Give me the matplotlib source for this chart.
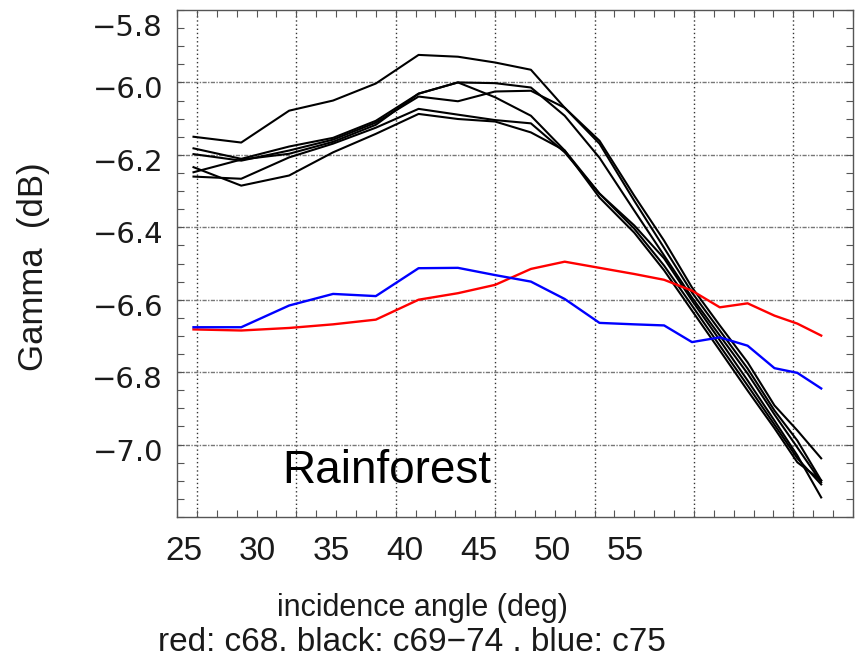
import numpy as np
import matplotlib.pyplot as plt
from matplotlib.ticker import MultipleLocator, FixedLocator
import matplotlib.transforms as mtransforms

plt.rcParams['font.family'] = ['Liberation Sans', 'DejaVu Sans']

# incidence angle of each sample (deg)
angle = [24.83, 27.23, 29.64, 31.85, 34.0, 36.15, 38.13, 40.0, 41.8, 43.5,
         45.25, 47.0, 48.5, 49.9, 51.3, 52.7, 54.05, 55.2, 56.4]

# gamma (dB)
c68 = [-6.682, -6.685, -6.678, -6.668, -6.655, -6.600, -6.582, -6.559, -6.515, -6.495,
       -6.512, -6.529, -6.545, -6.575, -6.621, -6.610, -6.644, -6.666, -6.699]
c75 = [-6.676, -6.676, -6.616, -6.584, -6.590, -6.513, -6.512, -6.532, -6.550, -6.598,
       -6.664, -6.668, -6.671, -6.717, -6.704, -6.727, -6.789, -6.802, -6.845]

c69 = [-6.150, -6.166, -6.078, -6.050, -6.003, -5.924, -5.929, -5.945, -5.965, -6.070,
       -6.161, -6.313, -6.437, -6.566, -6.671, -6.773, -6.892, -6.961, -7.038]
c70 = [-6.182, -6.211, -6.177, -6.153, -6.106, -6.031, -6.000, -6.002, -6.014, -6.092,
       -6.208, -6.354, -6.478, -6.594, -6.699, -6.804, -6.917, -7.008, -7.104]
c71 = [-6.198, -6.216, -6.188, -6.158, -6.111, -6.039, -6.052, -6.025, -6.023, -6.070,
       -6.169, -6.327, -6.457, -6.580, -6.685, -6.790, -6.906, -6.989, -7.099]
c72 = [-6.248, -6.213, -6.197, -6.164, -6.117, -6.031, -6.000, -6.041, -6.092, -6.188,
       -6.307, -6.395, -6.486, -6.602, -6.712, -6.823, -6.934, -7.030, -7.146]
c73 = [-6.260, -6.266, -6.207, -6.169, -6.125, -6.073, -6.089, -6.104, -6.113, -6.193,
       -6.307, -6.404, -6.506, -6.616, -6.727, -6.837, -6.945, -7.038, -7.110]
c74 = [-6.234, -6.285, -6.257, -6.193, -6.142, -6.087, -6.101, -6.108, -6.138, -6.188,
       -6.318, -6.415, -6.519, -6.630, -6.740, -6.851, -6.955, -7.049, -7.099]
black_runs = [c69, c70, c71, c72, c73, c74]

xtick_vals = [25, 30, 35, 40, 45, 50, 55]
ytick_vals = [-5.8, -6.0, -6.2, -6.4, -6.6, -6.8, -7.0]

TXT = "#1a1a1a"
AXC = "#555555"

fig = plt.figure(figsize=(8.55, 6.66), dpi=100)
ax = fig.add_axes([177 / 855, 1 - 517 / 666, 676 / 855, 507 / 666])
ax.set_xlim(24, 58)
ax.set_ylim(-7.2, -5.8)

# grid: dotted verticals every 5 deg, dash-dot horizontals every 0.2 dB
for gx in xtick_vals:
    ax.axvline(gx, color="#333333", lw=1.0, ls=(0, (1, 2)), zorder=1)
for gy in ytick_vals[1:]:
    ax.axhline(gy, color="#777777", lw=1.0, ls=(0, (3, 1, 1, 1)), zorder=1)

for run in black_runs:
    ax.plot(angle, run, color="black", lw=1.5, zorder=3)
ax.plot(angle, c68, color="#ff0000", lw=1.7, zorder=4)
ax.plot(angle, c75, color="#0000ff", lw=1.7, zorder=4)

# ticks (IDL style: inward, on all four sides)
# x labels sit a little compressed toward the left, as in the original
label_pos = [24.36 + (v - 25) * 0.74 for v in xtick_vals]
ax.xaxis.set_major_locator(FixedLocator(label_pos))
ax.set_xticklabels([str(v) for v in xtick_vals])
ax.xaxis.set_minor_locator(MultipleLocator(1))
ax.yaxis.set_major_locator(FixedLocator(ytick_vals))
ax.set_yticklabels([f"\u2212{abs(v):.1f}" for v in ytick_vals])
ax.yaxis.set_minor_locator(MultipleLocator(0.05))

ax.tick_params(axis='x', which='major', length=0, pad=14,
               labelsize=24, labelcolor=TXT)
ax.tick_params(axis='x', which='minor', direction='in', top=True, bottom=True,
               length=5, width=0.8, color=AXC)
ax.tick_params(axis='y', which='both', direction='in', left=True, right=True,
               length=5, width=0.8, color=AXC)
ax.tick_params(axis='y', which='major', pad=10, labelsize=21, labelcolor=TXT)
for lab in ax.get_yticklabels():
    lab.set_fontfamily('DejaVu Sans')

for i, lab in enumerate(ax.get_yticklabels()):
    dy = -15 if i == 0 else -5
    lab.set_transform(lab.get_transform() +
                      mtransforms.ScaledTranslation(0, dy / 100, fig.dpi_scale_trans))

for sp in ax.spines.values():
    sp.set_color(AXC)
    sp.set_linewidth(1.0)

fig.text(34 / 855, 1 - 267 / 666, "Gamma  (dB)", rotation=90, ha='center',
         va='center', fontsize=25, color=TXT)
fig.text(422 / 855, 1 - 616 / 666, "incidence angle (deg)", ha='center',
         va='baseline', fontsize=22, color=TXT)
fig.text(412 / 855, 1 - 651 / 666, "red: c68. black: c69\u221274 . blue: c75",
         ha='center', va='baseline', fontsize=24, color=TXT)

ax.text(0.155, 0.067, "Rainforest", transform=ax.transAxes, ha='left',
        va='baseline', fontsize=33, color="black", zorder=5)

fig.savefig("out.png", dpi=100)
